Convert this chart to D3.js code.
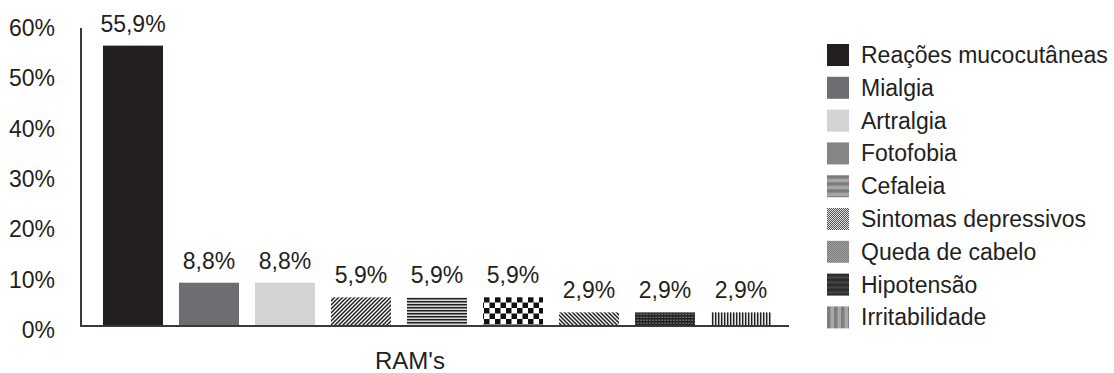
<!DOCTYPE html>
<html>
<head>
<meta charset="utf-8">
<script src="https://cdn.jsdelivr.net/npm/d3@7"></script>
<style>
  html, body { margin: 0; padding: 0; background: #fff; }
  svg { display: block; }
  text { font-family: "Liberation Sans", Arial, sans-serif; fill: #231f20; }
</style>
</head>
<body>
<svg id="chart" width="1114" height="373"></svg>
<script>
// ---- data ----
const categories = ["Reações mucocutâneas", "Mialgia", "Artralgia", "Fotofobia", "Cefaleia",
                    "Sintomas depressivos", "Queda de cabelo", "Hipotensão", "Irritabilidade"];
const values = [55.9, 8.8, 8.8, 5.9, 5.9, 5.9, 2.9, 2.9, 2.9];
const yTicks = [0, 10, 20, 30, 40, 50, 60];
const xAxisTitle = "RAM's";

// ---- setup ----
const svg = d3.select("#chart");
const defs = svg.append("defs");
const ink = "#231f20";

const x = d3.scaleBand().domain(categories).range([81, 789])
  .paddingInner(16 / 76).paddingOuter(0.263).align(0.55);
const y = d3.scaleLinear().domain([0, 60]).range([327, 25]);

const locale = d3.formatLocale({ decimal: ",", thousands: ".", grouping: [3], currency: ["", ""] });
const fmt = locale.format(".1f");

// ---- patterns ----
function pat(id, w, h, build) {
  const p = defs.append("pattern").attr("id", id).attr("patternUnits", "userSpaceOnUse")
    .attr("width", w).attr("height", h);
  build(p);
  return "url(#" + id + ")";
}
const fills = { bar: [], leg: [] };
fills.bar[0] = ink; fills.leg[0] = ink;
fills.bar[1] = "#6d6e71"; fills.leg[1] = "#6d6e71";
fills.bar[2] = "#d1d3d4"; fills.leg[2] = "#d1d3d4";
// Fotofobia: "/" diagonal
fills.bar[3] = pat("p3", 4, 4, p => {
  p.append("rect").attr("width", 4).attr("height", 4).attr("fill", "#fff");
  p.append("path").attr("d", "M-1,1 l2,-2 M0,4 l4,-4 M3,5 l2,-2").attr("stroke", ink).attr("stroke-width", 1.5);
});
fills.leg[3] = pat("l3", 2, 2, p => {
  p.append("rect").attr("width", 2).attr("height", 2).attr("fill", "#a5a5a5");
  p.append("path").attr("d", "M0,2 l2,-2").attr("stroke", "#555").attr("stroke-width", 0.8);
});
// Cefaleia: horizontal lines
fills.bar[4] = pat("p4", 6, 3, p => {
  p.append("rect").attr("width", 6).attr("height", 3).attr("fill", "#d8d8d8");
  p.append("rect").attr("y", 1).attr("width", 6).attr("height", 1.5).attr("fill", ink);
});
fills.leg[4] = pat("l4", 6, 7, p => {
  p.append("rect").attr("width", 6).attr("height", 7).attr("fill", "#a7a7a7");
  p.append("rect").attr("y", 0).attr("width", 6).attr("height", 3.5).attr("fill", "#7c7c7c");
});
// Sintomas depressivos: checkerboard
fills.bar[5] = pat("p5", 11, 11, p => {
  p.append("rect").attr("width", 11).attr("height", 11).attr("fill", "#fff");
  p.append("rect").attr("width", 5.5).attr("height", 5.5).attr("fill", "#111");
  p.append("rect").attr("x", 5.5).attr("y", 5.5).attr("width", 5.5).attr("height", 5.5).attr("fill", "#111");
});
fills.leg[5] = pat("l5", 2, 2, p => {
  p.append("rect").attr("width", 2).attr("height", 2).attr("fill", "#e0e0e0");
  p.append("rect").attr("width", 1).attr("height", 1).attr("fill", "#555");
  p.append("rect").attr("x", 1).attr("y", 1).attr("width", 1).attr("height", 1).attr("fill", "#555");
});
// Queda de cabelo: "\" diagonal
fills.bar[6] = pat("p6", 4, 4, p => {
  p.append("rect").attr("width", 4).attr("height", 4).attr("fill", "#fff");
  p.append("path").attr("d", "M-1,3 l2,2 M0,0 l4,4 M3,-1 l2,2").attr("stroke", ink).attr("stroke-width", 1.5);
});
fills.leg[6] = pat("l6", 2, 2, p => {
  p.append("rect").attr("width", 2).attr("height", 2).attr("fill", "#b0b0b0");
  p.append("path").attr("d", "M0,0 l2,2").attr("stroke", "#5a5a5a").attr("stroke-width", 0.8);
});
// Hipotensão: dark plaid
fills.bar[7] = pat("p7", 3, 3, p => {
  p.append("rect").attr("width", 3).attr("height", 3).attr("fill", "#6a6a6a");
  p.append("rect").attr("width", 3).attr("height", 1.6).attr("fill", "#1e1e1e");
  p.append("rect").attr("width", 1.2).attr("height", 3).attr("fill", "#2a2a2a");
});
fills.leg[7] = pat("l7", 6, 5, p => {
  p.append("rect").attr("width", 6).attr("height", 5).attr("fill", "#444");
  p.append("rect").attr("width", 6).attr("height", 2.5).attr("fill", "#2a2a2a");
});
// Irritabilidade: vertical lines
fills.bar[8] = pat("p8", 3, 6, p => {
  p.append("rect").attr("width", 3).attr("height", 6).attr("fill", "#e6e6e6");
  p.append("rect").attr("x", 1).attr("width", 1.4).attr("height", 6).attr("fill", ink);
});
fills.leg[8] = pat("l8", 7, 6, p => {
  p.append("rect").attr("width", 7).attr("height", 6).attr("fill", "#a8a8a8");
  p.append("rect").attr("width", 3.5).attr("height", 6).attr("fill", "#7e7e7e");
});

// ---- y axis labels ----
const yAxis = d3.axisLeft(y).tickValues(yTicks).tickSize(0).tickPadding(26).tickFormat(d => d + "%");
const gy = svg.append("g").attr("transform", "translate(81,0)").call(yAxis);
gy.select(".domain").remove();
gy.selectAll("text").attr("dy", "0.46em").style("font-family", "Liberation Sans, Arial, sans-serif")
  .style("font-size", "23px").attr("fill", ink);

// ---- bars ----
const data = categories.map((c, i) => ({ c, v: values[i], i }));
svg.append("g").selectAll("rect").data(data).join("rect")
  .attr("x", d => x(d.c))
  .attr("width", x.bandwidth())
  .attr("y", d => y(d.v))
  .attr("height", d => y(0) - y(d.v))
  .attr("fill", d => fills.bar[d.i]);

// ---- value labels ----
svg.append("g").selectAll("text").data(data).join("text")
  .attr("x", d => x(d.c) + x.bandwidth() / 2)
  .attr("y", d => y(d.v) - 14)
  .attr("text-anchor", "middle")
  .style("font-size", "23px")
  .text(d => fmt(d.v) + "%");

// ---- axis lines ----
svg.append("line").attr("x1", 81).attr("x2", 81).attr("y1", 28).attr("y2", y(0))
  .attr("stroke", "#3a3a3a").attr("stroke-width", 2);
svg.append("line").attr("x1", 80).attr("x2", 789).attr("y1", 326).attr("y2", 326)
  .attr("stroke", "#3a3a3a").attr("stroke-width", 2);

// ---- x title ----
svg.append("text").attr("x", 410).attr("y", 369).attr("text-anchor", "middle")
  .style("font-size", "24px").text(xAxisTitle);

// ---- legend ----
const lg = svg.append("g").attr("transform", "translate(827,44)");
const li = lg.selectAll("g").data(data).join("g")
  .attr("transform", (d, i) => `translate(0,${i * 32.8})`);
li.append("rect").attr("width", 22).attr("height", 22).attr("fill", d => fills.leg[d.i]);
li.append("text").attr("x", 34).attr("y", 19).style("font-size", "23px").text(d => d.c);
</script>
</body>
</html>
